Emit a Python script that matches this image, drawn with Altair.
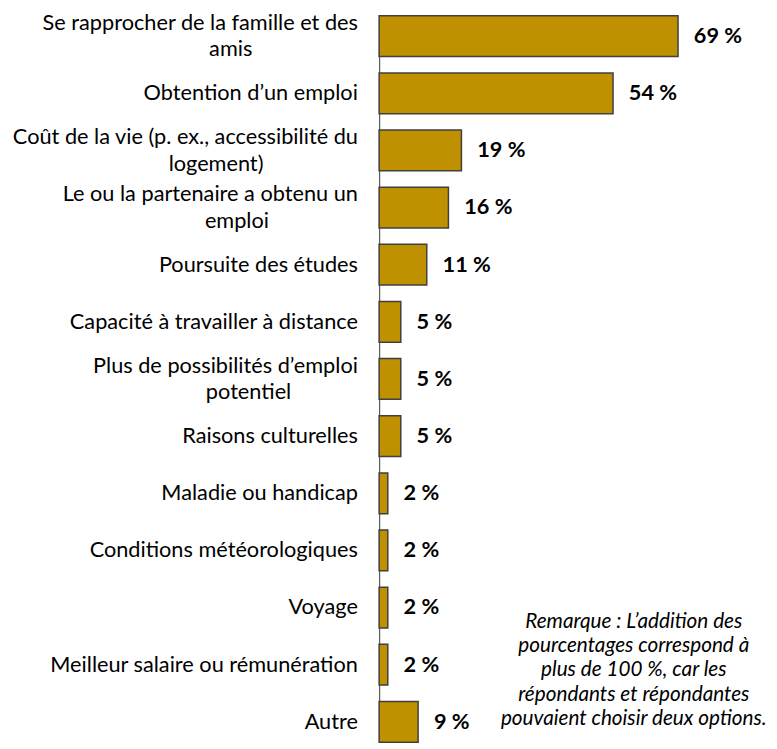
import altair as alt
import pandas as pd

FONT = "Lato"
FS = 22

label_lines = [
    ["Se rapprocher de la famille et des", "amis"],
    ["Obtention d’un emploi"],
    ["Coût de la vie (p. ex., accessibilité du", "logement)"],
    ["Le ou la partenaire a obtenu un", "emploi"],
    ["Poursuite des études"],
    ["Capacité à travailler à distance"],
    ["Plus de possibilités d’emploi", "potentiel"],
    ["Raisons culturelles"],
    ["Maladie ou handicap"],
    ["Conditions météorologiques"],
    ["Voyage"],
    ["Meilleur salaire ou rémunération"],
    ["Autre"],
]
values = [69, 54, 19, 16, 11, 5, 5, 5, 2, 2, 2, 2, 9]
value_labels = ["69 %", "54 %", "19 %", "16 %", "11 %", "5 %", "5 %", "5 %",
                "2 %", "2 %", "2 %", "2 %", "9 %"]
note_lines = [
    "Remarque : L’addition des",
    "pourcentages correspond à",
    "plus de 100 %, car les",
    "répondants et répondantes",
    "pouvaient choisir deux options.",
]

# approximate Lato advance widths (em), used only to centre the 2nd line
GLYPH = {
    "a": .51, "b": .56, "c": .46, "d": .56, "e": .52, "f": .32, "g": .50,
    "h": .56, "i": .24, "j": .24, "k": .50, "l": .24, "m": .84, "n": .56,
    "o": .56, "p": .56, "q": .56, "r": .37, "s": .42, "t": .35, "u": .56,
    "v": .50, "w": .76, "x": .49, "y": .50, "z": .45, " ": .193, ".": .2,
    ",": .2, "(": .3, ")": .3, "’": .2, "é": .52, "û": .56, "à": .51,
}
NBSP_EM = 0.33  # effective rendered width of a trailing no-break space


def est_width(s):
    return sum(GLYPH.get(c, 0.62) for c in s)


def join_label(lines):
    if len(lines) == 1:
        return lines[0]
    first, second = lines
    pad_em = (est_width(first) - est_width(second)) / 2
    n = max(0, round(pad_em / NBSP_EM))
    # trailing no-break spaces (kept by a word joiner) centre the short line
    return first + "\n" + second + "\u00a0" * n + "\u2060"


labels = [join_label(l) for l in label_lines]

df = pd.DataFrame({"cat": labels, "val": values, "lab": value_labels})

y_enc = alt.Y(
    "cat:N",
    sort=labels,
    title=None,
    scale=alt.Scale(paddingInner=0.287, paddingOuter=0),
    axis=alt.Axis(
        labelExpr="split(datum.label, '\\n')",
        labelFont=FONT,
        labelFontSize=FS,
        labelColor="#000000",
        labelLineHeight=27,
        labelLimit=0,
        labelPadding=22,
        labelAlign="right",
        labelBaseline="middle",
        labelOffset={"condition": {"test": "indexof(datum.value, '\\n') >= 0",
                                   "value": -13.5}, "value": 0},
        ticks=False,
        domainColor="#595959",
        domainWidth=1.2,
        grid=False,
    ),
)
x_enc = alt.X("val:Q", scale=alt.Scale(domain=[0, 90]), axis=None)

bars = alt.Chart(df).mark_bar(
    color="#BF9000", stroke="#404040", strokeWidth=1.5
).encode(x=x_enc, y=y_enc)

texts = alt.Chart(df).mark_text(
    align="left", baseline="middle", dx=16, font=FONT, fontSize=FS,
    fontWeight="bold", color="#000000"
).encode(x=x_enc, y=y_enc, text="lab:N")

note = alt.Chart(pd.DataFrame({"note": ["\n".join(note_lines)]})).mark_text(
    align="center", baseline="middle", lineBreak="\n", lineHeight=24.7,
    font=FONT, fontSize=21, fontStyle="italic", color="#000000"
).encode(x=alt.value(258), y=alt.value(614), text="note:N")

chart = alt.layer(bars, texts, note).properties(
    width=395,
    height=736,
    autosize=alt.AutoSizeParams(type="none"),
    padding={"left": 376, "top": 3, "right": 0, "bottom": 0},
).configure_view(stroke=None)

chart.save("out.html", embed_options={"renderer": "svg", "actions": False})
